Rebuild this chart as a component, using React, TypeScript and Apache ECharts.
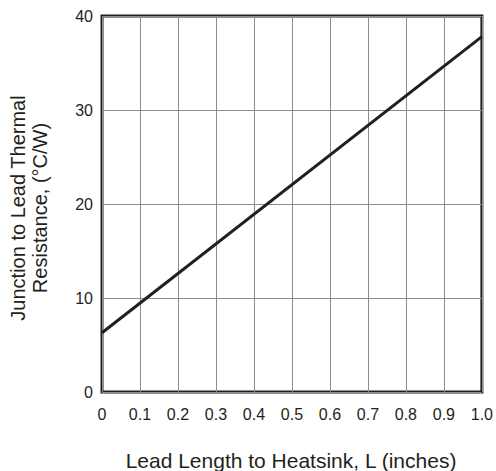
import React, { useEffect, useRef } from "react";
import * as echarts from "echarts";

const xValues = [0, 1.0];
const yValues = [6.3, 37.8];
const xTickLabels = ["0", "0.1", "0.2", "0.3", "0.4", "0.5", "0.6", "0.7", "0.8", "0.9", "1.0"];
const xTitle = "Lead Length to Heatsink, L (inches)";
const yTitle = "Junction to Lead Thermal\nResistance, (°C/W)";

export default function App() {
  const ref = useRef<HTMLDivElement>(null);
  useEffect(() => {
    if (!ref.current) return;
    const chart = echarts.init(ref.current, null, { renderer: "svg" });
    const dark = "#231f20";
    const font = "Liberation Sans, Arial, sans-serif";
    chart.setOption({
      animation: false,
      backgroundColor: "#ffffff",
      grid: {
        left: 102,
        top: 16,
        width: 380,
        height: 376,
        show: true,
        borderColor: dark,
        borderWidth: 3,
        backgroundColor: "transparent",
      },
      xAxis: {
        type: "value",
        min: 0,
        max: 1,
        interval: 0.1,
        axisLine: { show: false },
        axisTick: { show: false },
        splitLine: { show: true, lineStyle: { color: "#8c8c8c", width: 1 } },
        axisLabel: {
          color: dark,
          fontFamily: font,
          fontSize: 16,
          margin: 14,
          formatter: (v: number) => xTickLabels[Math.round(v * 10)] ?? "",
        },
      },
      yAxis: {
        type: "value",
        min: 0,
        max: 40,
        interval: 10,
        axisLine: { show: false },
        axisTick: { show: false },
        splitLine: { show: true, lineStyle: { color: "#8c8c8c", width: 1 } },
        axisLabel: { color: dark, fontFamily: font, fontSize: 16, margin: 9 },
      },
      graphic: [
        {
          type: "text",
          x: 29,
          y: 208,
          rotation: Math.PI / 2,
          style: {
            text: yTitle,
            fill: dark,
            font: `20px ${font}`,
            align: "center",
            verticalAlign: "middle",
            lineHeight: 22,
          },
        },
        {
          type: "text",
          x: 291,
          y: 460,
          style: {
            text: xTitle,
            fill: dark,
            font: `21px ${font}`,
            align: "center",
            verticalAlign: "middle",
          },
        },
      ],
      series: [
        {
          type: "line",
          data: xValues.map((x, i) => [x, yValues[i]]),
          showSymbol: false,
          lineStyle: { color: dark, width: 3 },
          z: 3,
        },
      ],
    });
    return () => chart.dispose();
  }, []);
  return (
    <div
      ref={ref}
      style={{ position: "absolute", left: 0, top: 0, width: 496, height: 471 }}
    />
  );
}
